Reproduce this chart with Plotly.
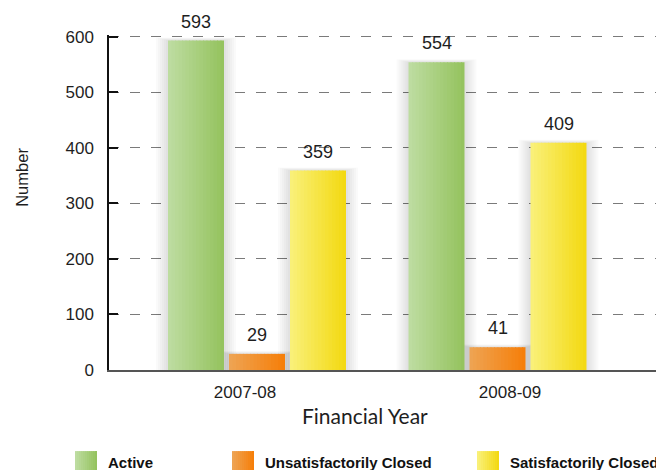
import plotly.graph_objects as go

# ---------------- data ----------------
categories = ["2007-08", "2008-09"]
series_names = ["Active", "Unsatisfactorily Closed", "Satisfactorily Closed"]
active = [593, 554]
unsatisfactorily_closed = [29, 41]
satisfactorily_closed = [359, 409]
y_tick_values = [0, 100, 200, 300, 400, 500, 600]
x_title = "Financial Year"
y_title = "Number"

series_values = [active, unsatisfactorily_closed, satisfactorily_closed]

# ---------------- style / layout constants ----------------
W, H = 656, 470
PX_PER_VAL = 333 / 600       # reference scale: 0 at y=370, 600 at y=37
y_range = [0, 603]
ML = 109
MR = 0
MB = H - 370
PH = (y_range[1] - y_range[0]) * PX_PER_VAL
MT = H - MB - PH
PW = W - ML - MR
PX_PER_CAT = 240.5           # pixels between category centres
CAT0_PX = 256.5              # pixel x of first category centre
x_range = [-(CAT0_PX - ML) / PX_PER_CAT, (W - MR - CAT0_PX) / PX_PER_CAT]

BAR_W_PX = 56
OFFSETS_PX = [-88.5, -27.5, 33.5]
GRADIENTS = [("#bddca0", "#95c35f"), ("#eea352", "#f67f0a"), ("#f9f078", "#f3d912")]
TICK_SHIFT_PX = [-11.5, 13]
N_SLICES = 16

FONT = "Liberation Sans, Arial, Helvetica, sans-serif"
TXT = "#1e1e1e"


def hex2rgb(h):
    h = h.lstrip("#")
    return tuple(int(h[i:i + 2], 16) for i in (0, 2, 4))


def lerp(c1, c2, t):
    a, b = hex2rgb(c1), hex2rgb(c2)
    return "rgb(%d,%d,%d)" % tuple(round(a[k] + (b[k] - a[k]) * t) for k in range(3))


def px_x(p):
    """pixel x -> paper coordinate"""
    return (p - ML) / PW


def px_y(p):
    """pixel y -> paper coordinate"""
    return (H - MB - p) / PH


x_pos = list(range(len(categories)))
bar_w = BAR_W_PX / PX_PER_CAT

fig = go.Figure()

# soft shadows behind bars
for s, vals in enumerate(series_values):
    off = OFFSETS_PX[s] / PX_PER_CAT
    for e in [2, 4, 6, 8, 10, 12]:
        ex = e / PX_PER_CAT
        ey = e / PX_PER_VAL
        fig.add_trace(go.Bar(
            x=x_pos, y=[v + ey * 0.25 for v in vals], offset=off - ex, width=bar_w + 2 * ex,
            marker=dict(color="rgba(0,0,0,0.02)", line=dict(width=0)),
            showlegend=False, hoverinfo="skip"))

# gradient bars (sliced horizontally)
for s, vals in enumerate(series_values):
    off = OFFSETS_PX[s] / PX_PER_CAT
    sw = bar_w / N_SLICES
    for j in range(N_SLICES):
        t = j / (N_SLICES - 1)
        extra = sw * 0.25 if j < N_SLICES - 1 else 0
        fig.add_trace(go.Bar(
            x=x_pos, y=vals, offset=off + j * sw, width=sw + extra,
            name=series_names[s], legendgroup=series_names[s],
            marker=dict(color=lerp(GRADIENTS[s][0], GRADIENTS[s][1], t), line=dict(width=0)),
            showlegend=False, hovertemplate="%{y}<extra>" + series_names[s] + "</extra>"))

annotations = []
# value labels
for s, vals in enumerate(series_values):
    off = OFFSETS_PX[s] / PX_PER_CAT
    for i, v in zip(x_pos, vals):
        annotations.append(dict(
            x=i + off + bar_w / 2, y=v, xref="x", yref="y", text=str(v),
            showarrow=False, yanchor="bottom", yshift=7,
            font=dict(family=FONT, size=18, color=TXT)))

# axis titles
annotations.append(dict(x=px_x(365), y=px_y(415), xref="paper", yref="paper", text=x_title,
                        showarrow=False, xanchor="center", yanchor="middle",
                        font=dict(family="Lato, Noto Sans, sans-serif", size=21, color=TXT)))
annotations.append(dict(x=px_x(22), y=px_y(178), xref="paper", yref="paper", text=y_title,
                        showarrow=False, textangle=-90, xanchor="center", yanchor="middle",
                        font=dict(family=FONT, size=16.5, color=TXT)))

# manual legend with gradient swatches
shapes = []
LEG_SQ_X = [75, 232, 477]
LEG_TXT_X = [106, 263, 508]
LEG_TOP, LEG_SIZE = 451, 22
for s, name in enumerate(series_names):
    n = 11
    for j in range(n):
        x0 = LEG_SQ_X[s] + j * LEG_SIZE / n
        x1 = x0 + LEG_SIZE / n + (0.5 if j < n - 1 else 0)
        shapes.append(dict(type="rect", xref="paper", yref="paper",
                           x0=px_x(x0), x1=px_x(x1), y0=px_y(LEG_TOP + LEG_SIZE), y1=px_y(LEG_TOP),
                           fillcolor=lerp(GRADIENTS[s][0], GRADIENTS[s][1], j / (n - 1)),
                           line=dict(width=0), layer="above"))
    annotations.append(dict(x=px_x(LEG_TXT_X[s]), y=px_y(462.5), xref="paper", yref="paper",
                            text="<b>" + name + "</b>", showarrow=False,
                            xanchor="left", yanchor="middle",
                            font=dict(family=FONT, size=15, color="#111")))

fig.update_layout(
    width=W, height=H,
    margin=dict(l=ML, r=MR, t=MT, b=MB, pad=0),
    paper_bgcolor="white", plot_bgcolor="white",
    barmode="overlay",
    showlegend=False,
    annotations=annotations,
    shapes=shapes,
    xaxis=dict(
        range=x_range, tickmode="array",
        tickvals=[i + TICK_SHIFT_PX[i] / PX_PER_CAT for i in x_pos],
        ticktext=categories,
        showgrid=False, zeroline=False,
        showline=True, linecolor="#555555", linewidth=2,
        ticks="", ticklabelstandoff=6,
        tickfont=dict(family=FONT, size=17, color=TXT),
        fixedrange=True),
    yaxis=dict(
        range=y_range, tickmode="array", tickvals=y_tick_values,
        showgrid=True, gridcolor="#7a7a7a", gridwidth=1, griddash="10px,11px",
        zeroline=False,
        showline=True, linecolor="#111111", linewidth=1.5,
        ticks="inside", ticklen=9, tickwidth=1.8, tickcolor="#111111",
        ticklabelstandoff=10,
        tickfont=dict(family=FONT, size=17, color=TXT),
        fixedrange=True),
)

# remove the default page margin so the 656x470 figure fills the window exactly
fig.write_html(
    "out.html",
    config={"displayModeBar": False},
    post_script="document.body.style.margin='0';document.body.style.overflow='hidden';",
)
